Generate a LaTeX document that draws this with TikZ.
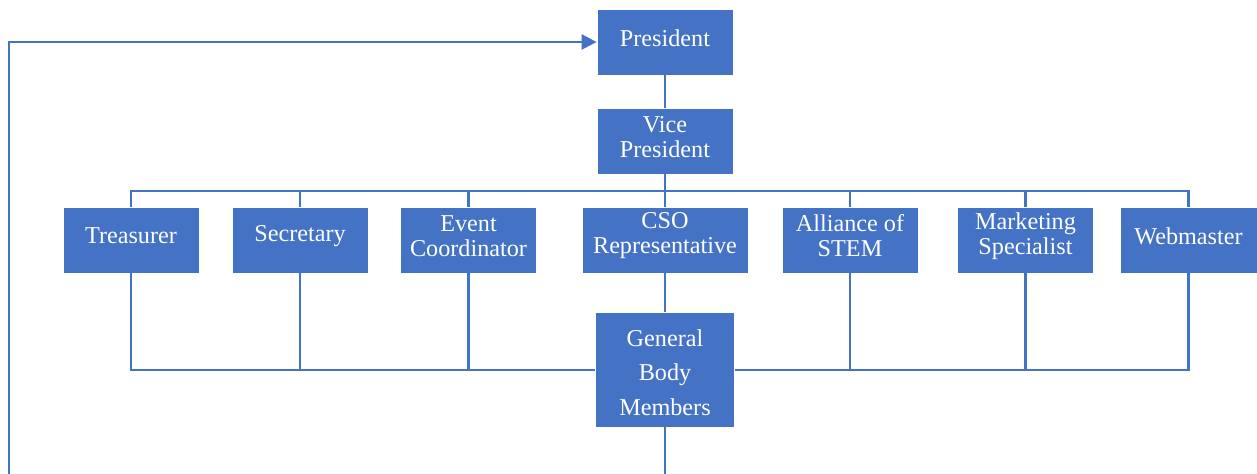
\documentclass[tikz,border=0pt]{standalone}
\usepackage{fontspec}
\setmainfont{Liberation Serif}
\usetikzlibrary{arrows.meta}
\definecolor{obl}{HTML}{4472C4}
\begin{document}
\begin{tikzpicture}[x=0.5pt,y=-0.5pt,
  box/.style={fill=obl, draw=white, line width=0.4pt, minimum height=33pt, minimum width=68pt, inner sep=0pt},
  lbl/.style={text=white, align=center, font=\fontsize{12.1}{12.5}\selectfont, yshift=2pt, inner sep=0pt},
  lblg/.style={text=white, align=center, font=\fontsize{12.1}{17.25}\selectfont, yshift=-1.5pt, inner sep=0pt},
  conn/.style={draw=obl, line width=1.25pt},
  arr/.style={conn, -{Triangle[length=7.5pt,width=7.5pt]}}]
\useasboundingbox (0,0) rectangle (1257,474);
\coordinate (topbus) at (0,191);
\coordinate (botbus) at (0,370);
\node[box, label={[lbl]center:President}] (pres) at (665,42) {};
\node[box, label={[lbl]center:{Vice\\President}}] (vp) at (665,141) {};
\node[box, label={[lbl]center:Treasurer}] (treas) at (131,240) {};
\node[box, label={[lbl]center:Secretary}] (sec) at (300,240) {};
\node[box, label={[lbl]center:{Event\\Coordinator}}] (event) at (468.5,240) {};
\node[box, minimum width=83pt, label={[lbl]center:{CSO\\Representative}}] (cso) at (665,240) {};
\node[box, label={[lbl]center:{Alliance of\\STEM}}] (all) at (850,240) {};
\node[box, label={[lbl]center:{Marketing\\Specialist}}] (mkt) at (1025.5,240) {};
\node[box, minimum width=68.5pt, label={[lbl]center:Webmaster}] (web) at (1188.5,240) {};
\coordinate (loopR) at (665,520);
\coordinate (loopL) at (9,520);
\draw[conn] (pres.south) -- (vp.north);
\draw[conn] (vp.south) -- (vp.south |- topbus);
\draw[conn] (treas.north) -- (treas.north |- topbus) -- (web.north |- topbus) -- (web.north);
\foreach \n in {sec,event,cso,all,mkt}{\draw[conn] (\n.north) -- (\n.north |- topbus);}
\draw[conn] (treas.south) -- (treas.south |- botbus) -- (web.south |- botbus) -- (web.south);
\foreach \n in {sec,event,all,mkt}{\draw[conn] (\n.south) -- (\n.south |- botbus);}
\node[box, minimum width=69.5pt, minimum height=57.5pt, label={[lblg]center:{General\\Body\\Members}}] (gbm) at (665,369.5) {};
\draw[conn] (cso.south) -- (gbm.north);
\draw[arr] (gbm.south) -- (loopR) -- (loopL) |- (pres.west);
\end{tikzpicture}
\end{document}
